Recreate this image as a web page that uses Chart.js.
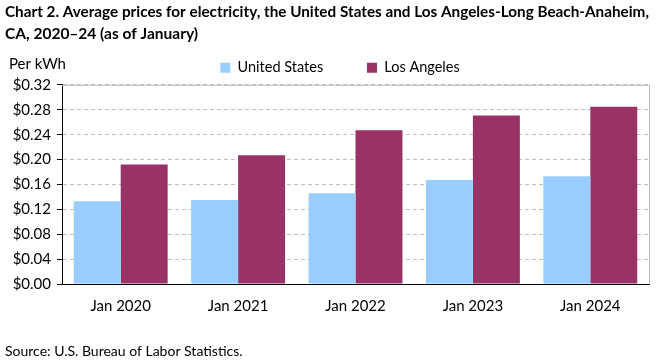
<!DOCTYPE html>
<html>
<head>
<meta charset="utf-8">
<script src="https://cdn.jsdelivr.net/npm/chart.js@4.4.1/dist/chart.umd.min.js"></script>
<style>
  html, body { margin: 0; padding: 0; background: #fff; }
  #wrap { width: 661px; height: 360px; }
</style>
</head>
<body>
<div id="wrap"><canvas id="chart" width="661" height="360"></canvas></div>
<script>
const categories = ['Jan 2020', 'Jan 2021', 'Jan 2022', 'Jan 2023', 'Jan 2024'];
const usPrices = [0.133, 0.135, 0.146, 0.167, 0.173];
const laPrices = [0.192, 0.207, 0.247, 0.271, 0.285];
const titleLines = [
    'Chart 2. Average prices for electricity, the United States and Los Angeles-Long Beach-Anaheim,',
    'CA, 2020\u201324 (as of January)'
];
const yUnit = 'Per kWh';
const sourceNote = 'Source: U.S. Bureau of Labor Statistics.';

const FONT = 'Lato, "Open Sans", sans-serif';

// текст поза осями і рамка області графіка
const extras = {
    id: 'extras',
    afterLayout(chart) {
        // легенда в оригіналі трохи правіше центру
        const lg = chart.legend;
        if (lg) { lg.left += 13; lg.right += 13; }
    },
    beforeDatasetsDraw(chart) {
        const { ctx, chartArea: a } = chart;
        ctx.save();
        ctx.strokeStyle = '#bfbfbf';
        ctx.lineWidth = 1;
        ctx.beginPath();
        ctx.moveTo(a.left, a.top + 0.5);
        ctx.lineTo(a.right + 0.5, a.top + 0.5);
        ctx.lineTo(a.right + 0.5, a.bottom);
        ctx.stroke();
        ctx.restore();
    },
    afterDraw(chart) {
        const { ctx } = chart;
        ctx.save();
        ctx.fillStyle = '#000';
        ctx.textBaseline = 'middle';
        ctx.textAlign = 'left';
        ctx.font = '15px ' + FONT;
        ctx.fillText(yUnit, 9, 64);
        ctx.font = '14px ' + FONT;
        ctx.fillText(sourceNote, 5, 351);
        ctx.restore();
    }
};

new Chart(document.getElementById('chart'), {
    type: 'bar',
    data: {
        labels: categories,
        datasets: [
            { label: 'United States', data: usPrices, backgroundColor: '#99ccff' },
            { label: 'Los Angeles', data: laPrices, backgroundColor: '#993366' }
        ]
    },
    options: {
        responsive: false,
        animation: false,
        layout: { padding: { left: 5, right: 12, top: 0, bottom: 16 } },
        datasets: { bar: { categoryPercentage: 0.8, barPercentage: 1.0 } },
        plugins: {
            title: {
                display: true,
                text: titleLines,
                align: 'start',
                color: '#000',
                font: { family: FONT, size: 15.5, weight: 'bold', lineHeight: 1.4 },
                padding: { top: 1, bottom: 13 }
            },
            legend: {
                position: 'top',
                labels: {
                    color: '#000',
                    font: { family: FONT, size: 14.5 },
                    boxWidth: 10,
                    boxHeight: 10,
                    padding: 3,
                    generateLabels(chart) {
                        const items = Chart.defaults.plugins.legend.labels.generateLabels(chart);
                        // ширший проміжок між елементами легенди
                        items[0].text += '           ';
                        return items;
                    }
                }
            },
            tooltip: { enabled: false }
        },
        scales: {
            x: {
                grid: { display: false },
                border: { color: '#000', width: 1 },
                ticks: { color: '#000', font: { family: FONT, size: 15 }, padding: 5, maxRotation: 0 },
                afterFit(scale) { scale.height = 60; }
            },
            y: {
                min: 0,
                max: 0.32,
                grid: { color: '#bfbfbf', tickColor: '#000', tickLength: 5 },
                border: { color: '#000', width: 1, dash: [4, 3] },
                ticks: {
                    stepSize: 0.04,
                    color: '#000',
                    padding: 6,
                    font: { family: FONT, size: 15 },
                    callback: v => '$' + v.toFixed(2)
                },
                afterFit(scale) { scale.width = 57; }
            }
        }
    },
    plugins: [extras]
});
</script>
</body>
</html>
